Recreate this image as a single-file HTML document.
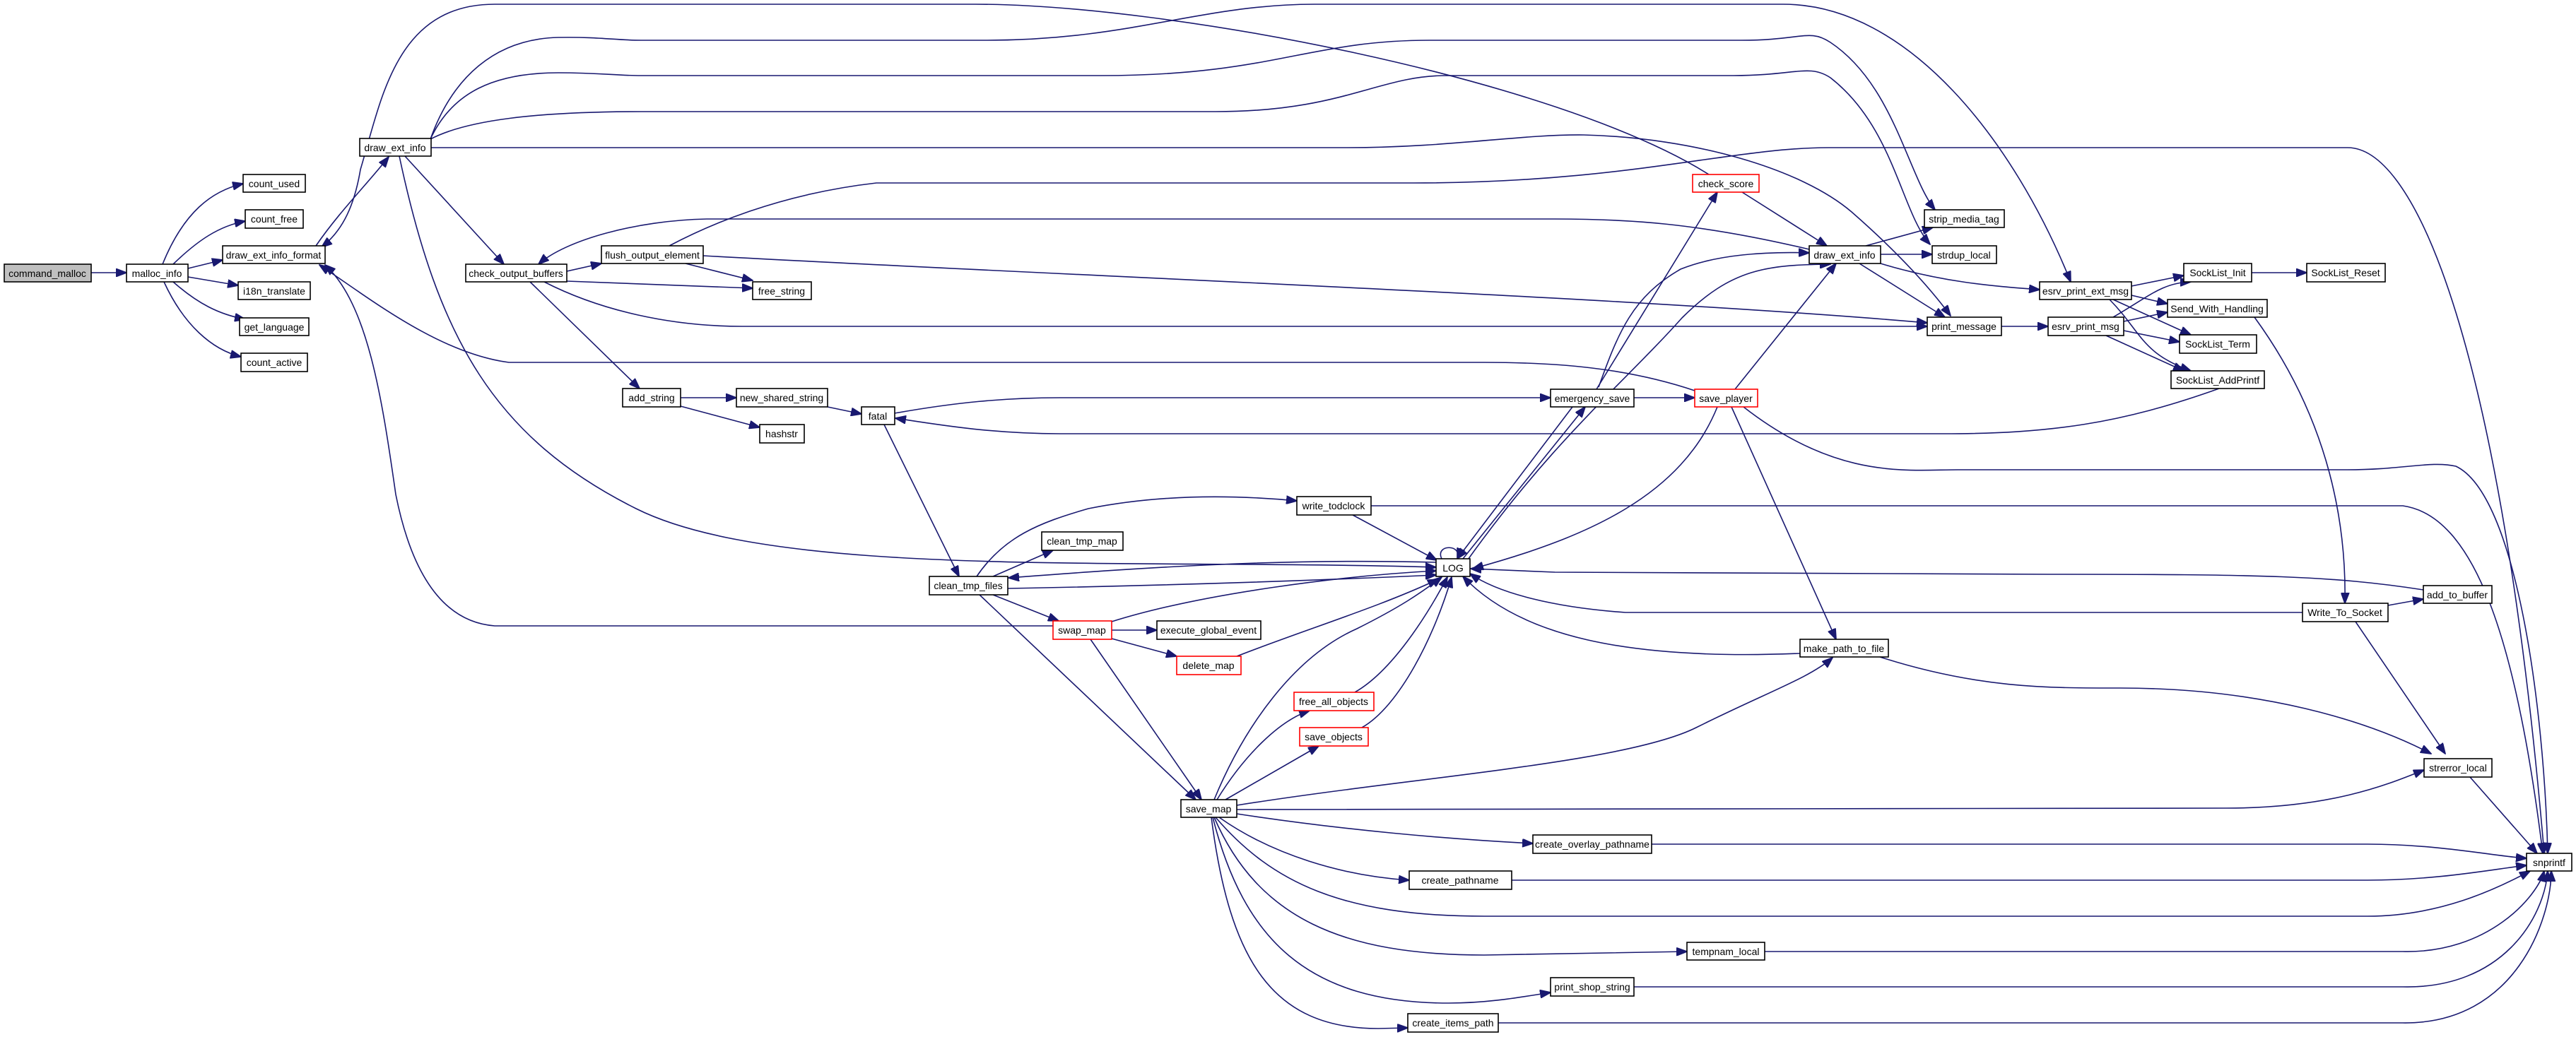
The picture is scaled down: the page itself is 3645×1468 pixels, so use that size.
<!DOCTYPE html>
<html><head><meta charset="utf-8"><style>
html,body{margin:0;padding:0;background:#fff}
svg{display:block}
text{font-family:"Liberation Sans",sans-serif;font-size:14px;text-anchor:middle;dominant-baseline:central;fill:#000}
.n{fill:#fff;stroke:#000;stroke-width:1.6}
.r{fill:#fff;stroke:#ff0000;stroke-width:1.6}
.g{fill:#bfbfbf;stroke:#000;stroke-width:1.6}
path{fill:none;stroke:#191970;stroke-width:1.6}
</style></head><body>
<svg width="3645" height="1468" viewBox="0 0 3645 1468" xmlns="http://www.w3.org/2000/svg">
<defs><marker id="a" markerUnits="userSpaceOnUse" markerWidth="16" markerHeight="12" refX="15" refY="6" orient="auto"><path d="M0,0 L16,6 L0,12 Z" style="fill:#191970;stroke:#191970;stroke-width:1"/></marker></defs>
<g marker-end="url(#a)">
<path d="M129,386 L179,386"/>
<path d="M230,374 C260,300 300,270 344,260"/>
<path d="M245,374 C280,340 310,320 347,313"/>
<path d="M266,380 L315,368"/>
<path d="M266,392 L337,404"/>
<path d="M245,399 C280,430 310,445 347,452"/>
<path d="M232,399 C260,460 300,495 341,505"/>
<path d="M447,348 C480,300 520,260 550,222"/>
<path d="M2418,247 C2200,110 1650,6 1380,6 L700,6 C560,6 540,140 510,240 C500,300 480,330 455,350"/>
<path d="M573,221 L713,374"/>
<path d="M565,221 C620,480 700,620 900,720 S1600,790 2032,803"/>
<path d="M609,197 C640,110 700,55 790,53 C850,52 870,57 907,57 L1395,57 C1600,57 1700,6 1860,6 L2523,6 C2700,6 2850,200 2930,399"/>
<path d="M609,197 C640,130 700,103 790,103 C850,103 870,107 907,107 L1558,107 C1800,107 1850,57 2023,57 L2464,57 C2550,57 2560,40 2590,60 C2680,120 2700,250 2738,297"/>
<path d="M609,197 C660,170 760,158 907,158 L1720,158 C1900,158 1950,107 2046,107 L2453,107 C2540,107 2560,90 2590,110 C2680,180 2690,300 2731,346"/>
<path d="M610,209 L1907,209 C2050,209 2150,190 2241,191 C2400,195 2550,240 2620,300 C2700,370 2740,420 2760,447"/>
<path d="M802,384 L851,373"/>
<path d="M970,373 L1065,397"/>
<path d="M802,398 L1065,408"/>
<path d="M995,362 C1500,390 2300,420 2727,457"/>
<path d="M770,399 C850,440 950,462 1050,462 L2727,462"/>
<path d="M750,399 L905,550"/>
<path d="M2560,353 C2400,315 2300,310 2200,310 L1000,310 C900,312 800,340 762,374"/>
<path d="M947,348 C1000,320 1100,275 1240,259 L2000,259 C2300,259 2450,209 2587,209 L3322,209 C3420,209 3540,500 3600,1208"/>
<path d="M2398,553 C2300,520 2200,513 2100,513 L720,513 C620,500 520,420 452,375"/>
<path d="M1490,886 L700,886 C620,880 580,800 560,700 C540,560 520,430 460,375"/>
<path d="M963,563 L1042,563"/>
<path d="M963,575 L1075,605"/>
<path d="M1171,576 L1219,586"/>
<path d="M1266,585 C1350,570 1420,563 1500,563 L2194,563"/>
<path d="M3140,550 C3000,600 2900,614 2750,614 L1500,614 C1400,614 1320,600 1267,592"/>
<path d="M1251,601 L1357,816"/>
<path d="M1382,816 C1420,760 1470,740 1540,720 C1640,700 1740,700 1835,709"/>
<path d="M1405,816 L1490,779"/>
<path d="M2032,796 C1800,790 1600,805 1427,818"/>
<path d="M1426,833 C1700,828 1900,820 2032,814"/>
<path d="M1405,842 L1498,879"/>
<path d="M1386,842 L1692,1132"/>
<path d="M1573,880 C1700,840 1900,815 2032,808"/>
<path d="M1573,892 L1637,892"/>
<path d="M1573,904 L1665,929"/>
<path d="M1543,905 L1700,1132"/>
<path d="M1750,929 C1850,890 1950,860 2035,820"/>
<path d="M1718,1132 C1760,1030 1830,930 1920,890 C1980,860 2010,840 2040,817"/>
<path d="M1722,1132 C1760,1070 1810,1020 1853,1006"/>
<path d="M1734,1132 L1866,1056"/>
<path d="M1917,980 C1970,950 2020,870 2048,817"/>
<path d="M1927,1030 C1980,1000 2030,900 2054,817"/>
<path d="M1914,729 L2033,793"/>
<path d="M1940,716 L3400,716 C3500,730 3560,900 3598,1208"/>
<path d="M2040,791 C2030,770 2070,770 2062,791"/>
<path d="M2640,348 L2735,322"/>
<path d="M2661,360 L2734,360"/>
<path d="M2631,373 L2752,449"/>
<path d="M2661,373 C2750,400 2820,405 2886,410"/>
<path d="M2465,272 L2585,348"/>
<path d="M2259,551 L2430,272"/>
<path d="M2262,548 C2290,470 2310,420 2378,381 C2430,360 2500,356 2560,358"/>
<path d="M2312,563 L2398,563"/>
<path d="M2225,576 L2062,791"/>
<path d="M2070,791 L2243,576"/>
<path d="M2455,551 L2598,373"/>
<path d="M2075,795 C2200,620 2300,540 2380,450 C2450,380 2500,375 2590,374"/>
<path d="M2430,576 C2380,700 2250,760 2084,805"/>
<path d="M2450,576 L2598,905"/>
<path d="M2467,576 C2600,680 2700,665 2770,665 L3322,665 C3400,665 3440,652 3475,660 C3560,700 3600,1000 3605,1208"/>
<path d="M3429,835 C3300,815 3200,813 2900,813 L2200,810 C2150,808 2110,806 2081,805"/>
<path d="M3258,867 L2300,867 C2200,860 2120,840 2080,812"/>
<path d="M3379,857 L3429,848"/>
<path d="M3190,449 C3300,600 3320,750 3318,854"/>
<path d="M3333,880 L3460,1067"/>
<path d="M2547,925 C2300,935 2150,900 2070,816"/>
<path d="M2660,930 C2800,975 2900,974 3000,974 C3200,974 3350,1020 3440,1067"/>
<path d="M1750,1140 C2000,1100 2300,1080 2400,1030 C2500,980 2560,960 2593,931"/>
<path d="M1750,1146 L3150,1144 C3300,1144 3380,1110 3430,1090"/>
<path d="M1750,1152 C1900,1175 2050,1188 2169,1194"/>
<path d="M1725,1157 C1800,1210 1900,1240 1994,1246"/>
<path d="M1720,1157 C1800,1250 1900,1297 2100,1297 L3350,1297 C3450,1297 3530,1260 3580,1233"/>
<path d="M1718,1157 C1780,1300 1900,1352 2100,1352 L2387,1347"/>
<path d="M1716,1157 C1760,1330 1850,1420 2050,1420 C2110,1420 2160,1410 2194,1405"/>
<path d="M1714,1157 C1740,1360 1800,1456 1950,1456 L1992,1455"/>
<path d="M2337,1195 L3350,1195 C3450,1195 3530,1212 3575,1215"/>
<path d="M2139,1246 L3350,1246 C3450,1246 3530,1230 3575,1225"/>
<path d="M2497,1347 L3400,1347 C3520,1350 3590,1270 3600,1233"/>
<path d="M2312,1397 L3400,1397 C3540,1400 3600,1300 3605,1233"/>
<path d="M2120,1448 L3400,1448 C3560,1450 3610,1300 3610,1233"/>
<path d="M3495,1100 L3590,1208"/>
<path d="M3016,405 L3090,390"/>
<path d="M3016,418 L3067,430"/>
<path d="M2990,424 L3100,474"/>
<path d="M2985,424 C3030,470 3030,500 3100,525"/>
<path d="M2990,449 C3040,420 3060,400 3100,399"/>
<path d="M3005,455 L3067,442"/>
<path d="M3005,468 L3084,484"/>
<path d="M2980,475 L3090,525"/>
<path d="M2832,462 L2898,462"/>
<path d="M3186,386 L3264,386"/>
</g>
<g>
<rect class="g" x="6" y="374" width="123" height="25"/><text x="67" y="387">command_malloc</text>
<rect class="n" x="179" y="374" width="87" height="25"/><text x="222" y="387">malloc_info</text>
<rect class="n" x="344" y="247" width="88" height="25"/><text x="388" y="260">count_used</text>
<rect class="n" x="347" y="297" width="82" height="26"/><text x="388" y="310">count_free</text>
<rect class="n" x="315" y="348" width="145" height="25"/><text x="387" y="361">draw_ext_info_format</text>
<rect class="n" x="337" y="399" width="102" height="25"/><text x="388" y="412">i18n_translate</text>
<rect class="n" x="339" y="450" width="98" height="25"/><text x="388" y="463">get_language</text>
<rect class="n" x="341" y="500" width="94" height="26"/><text x="388" y="513">count_active</text>
<rect class="n" x="509" y="196" width="101" height="25"/><text x="559" y="209">draw_ext_info</text>
<rect class="n" x="659" y="374" width="143" height="25"/><text x="730" y="387">check_output_buffers</text>
<rect class="n" x="851" y="348" width="144" height="25"/><text x="923" y="361">flush_output_element</text>
<rect class="n" x="881" y="550" width="82" height="26"/><text x="922" y="563">add_string</text>
<rect class="n" x="1065" y="399" width="83" height="25"/><text x="1106" y="412">free_string</text>
<rect class="n" x="1042" y="550" width="129" height="26"/><text x="1106" y="563">new_shared_string</text>
<rect class="n" x="1075" y="601" width="63" height="26"/><text x="1106" y="614">hashstr</text>
<rect class="n" x="1219" y="576" width="47" height="25"/><text x="1242" y="589">fatal</text>
<rect class="n" x="1835" y="703" width="105" height="26"/><text x="1887" y="716">write_todclock</text>
<rect class="n" x="1474" y="753" width="115" height="26"/><text x="1531" y="766">clean_tmp_map</text>
<rect class="n" x="2032" y="791" width="48" height="25"/><text x="2056" y="804">LOG</text>
<rect class="n" x="1315" y="816" width="111" height="26"/><text x="1370" y="829">clean_tmp_files</text>
<rect class="r" x="1490" y="879" width="83" height="26"/><text x="1531" y="892">swap_map</text>
<rect class="n" x="1637" y="879" width="147" height="26"/><text x="1710" y="892">execute_global_event</text>
<rect class="r" x="1665" y="929" width="91" height="26"/><text x="1710" y="942">delete_map</text>
<rect class="r" x="1831" y="980" width="113" height="26"/><text x="1887" y="993">free_all_objects</text>
<rect class="r" x="1839" y="1030" width="97" height="26"/><text x="1887" y="1043">save_objects</text>
<rect class="n" x="1671" y="1132" width="79" height="25"/><text x="1710" y="1145">save_map</text>
<rect class="n" x="1994" y="1233" width="145" height="26"/><text x="2066" y="1246">create_pathname</text>
<rect class="n" x="1992" y="1435" width="128" height="26"/><text x="2056" y="1448">create_items_path</text>
<rect class="n" x="3430" y="1074" width="96" height="26"/><text x="3478" y="1087">strerror_local</text>
<rect class="n" x="3575" y="1208" width="64" height="25"/><text x="3607" y="1221">snprintf</text>
<rect class="n" x="2169" y="1182" width="168" height="26"/><text x="2253" y="1195">create_overlay_pathname</text>
<rect class="n" x="2387" y="1334" width="110" height="25"/><text x="2442" y="1347">tempnam_local</text>
<rect class="n" x="2194" y="1384" width="118" height="26"/><text x="2253" y="1397">print_shop_string</text>
<rect class="r" x="2395" y="247" width="94" height="25"/><text x="2442" y="260">check_score</text>
<rect class="n" x="2723" y="297" width="113" height="25"/><text x="2779" y="310">strip_media_tag</text>
<rect class="n" x="2560" y="348" width="101" height="25"/><text x="2610" y="361">draw_ext_info</text>
<rect class="n" x="2734" y="348" width="91" height="25"/><text x="2779" y="361">strdup_local</text>
<rect class="n" x="3090" y="373" width="96" height="26"/><text x="3138" y="386">SockList_Init</text>
<rect class="n" x="3264" y="373" width="111" height="26"/><text x="3319" y="386">SockList_Reset</text>
<rect class="n" x="2886" y="399" width="130" height="25"/><text x="2951" y="412">esrv_print_ext_msg</text>
<rect class="n" x="3067" y="424" width="141" height="25"/><text x="3137" y="437">Send_With_Handling</text>
<rect class="n" x="2727" y="449" width="105" height="26"/><text x="2779" y="462">print_message</text>
<rect class="n" x="2898" y="449" width="107" height="26"/><text x="2951" y="462">esrv_print_msg</text>
<rect class="n" x="3084" y="474" width="109" height="26"/><text x="3138" y="487">SockList_Term</text>
<rect class="n" x="3072" y="525" width="132" height="25"/><text x="3138" y="538">SockList_AddPrintf</text>
<rect class="n" x="2194" y="551" width="118" height="25"/><text x="2253" y="564">emergency_save</text>
<rect class="r" x="2398" y="551" width="89" height="25"/><text x="2442" y="564">save_player</text>
<rect class="n" x="3429" y="829" width="97" height="25"/><text x="3477" y="842">add_to_buffer</text>
<rect class="n" x="3258" y="854" width="121" height="26"/><text x="3318" y="867">Write_To_Socket</text>
<rect class="n" x="2547" y="905" width="125" height="25"/><text x="2609" y="918">make_path_to_file</text>
</g>
</svg>
</body></html>
